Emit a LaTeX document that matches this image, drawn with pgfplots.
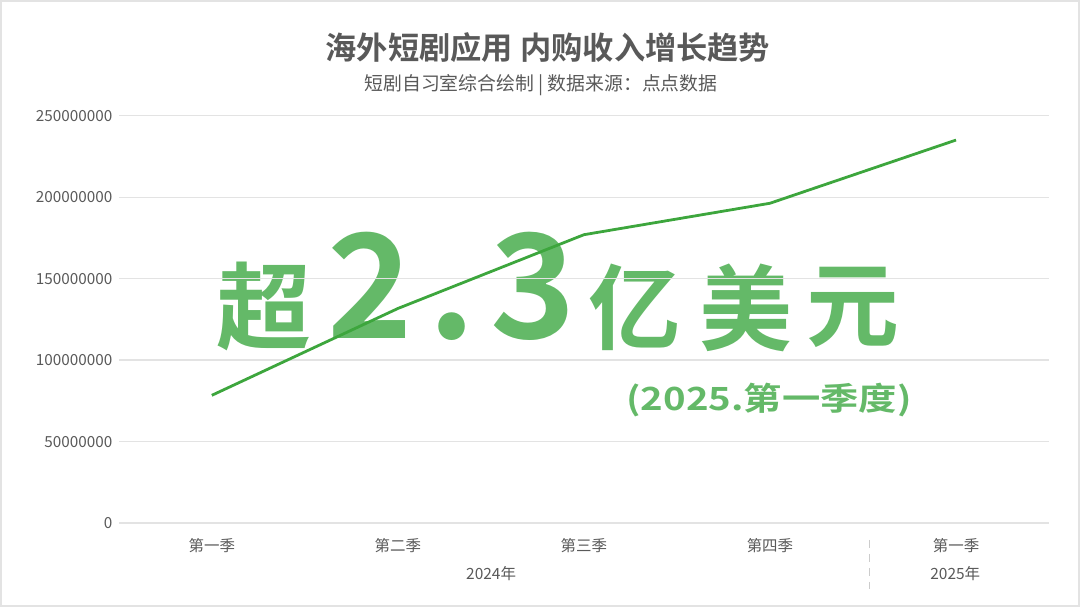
\documentclass[border=0pt]{standalone}
\usepackage{pgfplots}
\pgfplotsset{compat=1.18}
\usepackage{fontspec}
\setmainfont{Noto Sans CJK SC}
\newfontfamily\cjk{Noto Sans CJK SC}
\newfontfamily\cjkb{Noto Sans CJK SC Bold}
\definecolor{tgray}{HTML}{595959}
\definecolor{lgray}{HTML}{E3E3E3}
\definecolor{dgray}{HTML}{CCCCCC}
\definecolor{bgreen}{HTML}{64B968}
\definecolor{lgreen}{HTML}{3DA63D}
\begin{document}
\begin{tikzpicture}[x=1pt,y=1pt]
\path[draw=lgray,line width=2pt] (0,0) rectangle (1080,606);
% big overlay text (drawn first, line on top)
\node[font=\cjkb\fontsize{95}{95}\selectfont,text=bgreen,anchor=center] at (263,300) {超};
\node[font=\cjkb\fontsize{145}{145}\selectfont,text=bgreen,anchor=base] at (369.5,268) {2};
\node[font=\cjkb\fontsize{145}{145}\selectfont,text=bgreen,anchor=base] at (452,268) {.};
\node[font=\cjkb\fontsize{145}{145}\selectfont,text=bgreen,anchor=base] at (533,268) {3};
\node[font=\cjkb\fontsize{93}{93}\selectfont,text=bgreen,anchor=center] at (635,299) {亿};
\node[font=\cjkb\fontsize{93}{93}\selectfont,text=bgreen,anchor=center] at (746,299) {美};
\node[font=\cjkb\fontsize{93}{93}\selectfont,text=bgreen,anchor=center] at (853,299) {元};
\node[font=\cjkb\fontsize{32}{32}\selectfont,text=bgreen,anchor=center] at (769.5,206.5) {\scalebox{1.2}[1]{(2025.第一季度)}};
\begin{axis}[
  at={(118pt,83pt)}, anchor=south west,
  scale only axis, width=932pt, height=408pt,
  xmin=-0.5, xmax=4.5, ymin=0, ymax=250000000,
  xtick={0,1,2,3,4},
  xticklabels={第一季,第二季,第三季,第四季,第一季},
  ytick={0,50000000,100000000,150000000,200000000,250000000},
  scaled y ticks=false,
  yticklabel style={/pgf/number format/fixed,/pgf/number format/1000 sep={},/pgf/number format/assume math mode=true,font=\fontsize{15.3}{17}\selectfont\cjk,text=tgray,xshift=-3pt},
  xticklabel style={font=\fontsize{15.5}{17}\selectfont\cjk,text=tgray,yshift=-12pt},
  major tick length=0pt,
  axis line style={draw=none},
  ymajorgrids, grid style={lgray,line width=1.4pt},
  clip=false,
]
\addplot[lgreen,line width=2.8pt] coordinates {
(0,78400000) (1,131700000) (2,177000000) (3,196300000) (4,235100000)};
\end{axis}
\node[font=\cjkb\fontsize{31.3}{32}\selectfont,text=tgray] at (548,559) {海外短剧应用 内购收入增长趋势};
\node[font=\cjk\fontsize{18.9}{19}\selectfont,text=tgray] at (541,522) {短剧自习室综合绘制 | 数据来源：点点数据};
\node[font=\cjk\fontsize{15.5}{17}\selectfont,text=tgray] at (491,32) {2024年};
\node[font=\cjk\fontsize{15.5}{17}\selectfont,text=tgray] at (956,32) {2025年};
\draw[dgray,line width=1.8pt,dash pattern=on 8pt off 6pt] (870,66) -- (870,17);
\end{tikzpicture}
\end{document}
